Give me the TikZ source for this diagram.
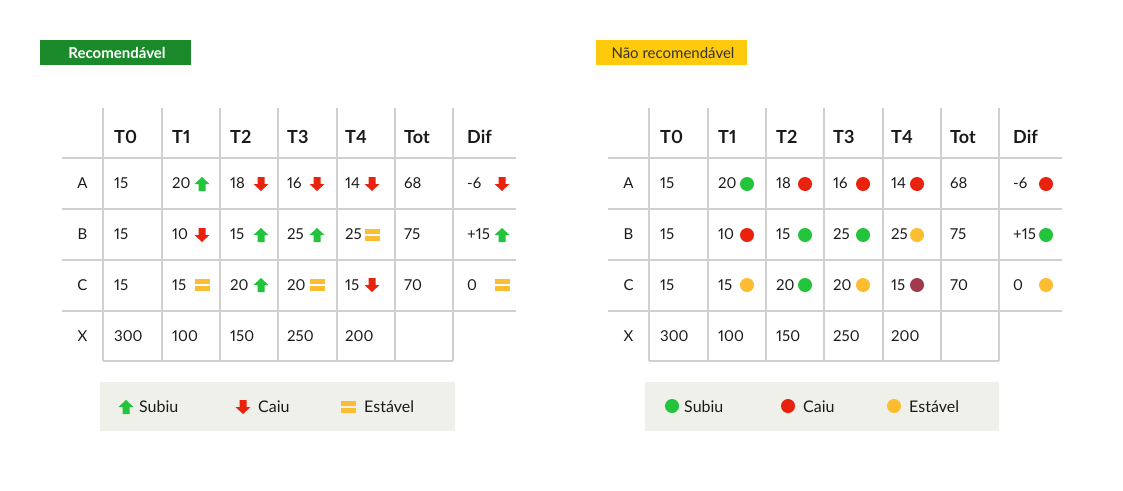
\documentclass[tikz,border=0pt]{standalone}
\usepackage{fontspec}
\setmainfont{Lato}[Numbers=Proportional]
\definecolor{cgreen}{HTML}{21C43A}
\definecolor{cred}{HTML}{E8220C}
\definecolor{corange}{HTML}{FDBD31}
\definecolor{cmaroon}{HTML}{A03A4C}
\definecolor{tgreen}{HTML}{1A8A2A}
\definecolor{tyellow}{HTML}{FFC90C}
\definecolor{legbg}{HTML}{F0F0EB}
\definecolor{gridc}{HTML}{D0D0D0}
\definecolor{txt}{HTML}{1A1A1A}
\tikzset{
  gridline/.style={draw=gridc, line width=1.3pt},
  hdr/.style={anchor=base west, inner sep=0pt, text=txt, font=\bfseries\fontsize{18}{18}\selectfont},
  val/.style={anchor=base west, inner sep=0pt, text=txt, font=\fontsize{15}{15}\selectfont},
  rowlab/.style={anchor=base, inner sep=0pt, text=txt, font=\fontsize{15}{15}\selectfont},
  legtext/.style={anchor=base west, inner sep=0pt, text=txt, font=\fontsize{16}{16}\selectfont},
  titletext/.style={anchor=base, inner sep=0pt, font=\fontsize{15}{15}\selectfont},
}
\newcommand{\IcUp}[2]{\fill[cgreen] (#1,#2) ++(0,-7) -- ++(7.5,7) -- ++(-4,0) -- ++(0,7) -- ++(-7,0) -- ++(0,-7) -- ++(-4,0) -- cycle;}
\newcommand{\IcDown}[2]{\fill[cred] (#1,#2) ++(0,7) -- ++(7.5,-7) -- ++(-4,0) -- ++(0,-7) -- ++(-7,0) -- ++(0,7) -- ++(-4,0) -- cycle;}
\newcommand{\IcEq}[2]{\fill[corange] (#1,#2) ++(-7.5,-6) rectangle ++(15,5); \fill[corange] (#1,#2) ++(-7.5,1) rectangle ++(15,5);}
\newcommand{\IcDot}[3]{\fill[#3] (#1,#2) circle (7);}
\newcommand{\TableBase}[1]{%
  \foreach \yy in {158,209,260,311} \draw[gridline] (62,\yy) -- (516,\yy);
  \foreach \xx in {103,162,220,278,337,395,453} \draw[gridline] (\xx,108) -- (\xx,361);
  \draw[gridline] (103,361) -- (453,361);
  \foreach \xx/\t [count=\i] in {114/T0,172/T1,230/T2,287/T3,345/T4,404/Tot,467/Dif}
    \node[hdr] (#1h\i) at (\xx,143) {\t};
  \foreach \r/\yy in {A/188,B/239,C/290,X/341}
    \node[rowlab] (#1\r) at (82.5,\yy) {\r};
  \foreach \xx/\v [count=\i] in {114/15,172/20,230/18,287/16,345/14,404/68,467/-6}
    \node[val] (#1A\i) at (\xx,188) {\v};
  \foreach \xx/\v [count=\i] in {114/15,172/10,230/15,287/25,345/25,404/75,467/+15}
    \node[val] (#1B\i) at (\xx,239) {\v};
  \foreach \xx/\v [count=\i] in {114/15,172/15,230/20,287/20,345/15,404/70,467/0}
    \node[val] (#1C\i) at (\xx,290) {\v};
  \foreach \xx/\v [count=\i] in {114/300,172/100,230/150,287/250,345/200}
    \node[val] (#1X\i) at (\xx,341) {\v};
}
\begin{document}
\begin{tikzpicture}[x=1pt,y=-1pt]
\useasboundingbox (0,0) rectangle (1123,490);
\fill[white] (0,0) rectangle (1123,490);
% titles
\fill[tgreen] (40,40) rectangle (191,65);
\node[titletext, text=white, font=\bfseries\fontsize{15}{15}\selectfont] (t1) at (117,58.5) {Recomendável};
\fill[tyellow] (596,40) rectangle (747,65);
\node[titletext, text=black!80] (t2) at (673,58.5) {Não recomendável};
% left table
\TableBase{L}
\IcUp{202}{184} \IcDown{261}{184} \IcDown{317}{184} \IcDown{372}{184} \IcDown{502}{184}
\IcDown{202}{235} \IcUp{261}{235} \IcUp{317}{235} \IcEq{372}{235} \IcUp{502}{235}
\IcEq{202}{285} \IcUp{261}{285} \IcEq{317}{285} \IcDown{372}{285} \IcEq{502}{285}
% right table
\begin{scope}[xshift=546pt]
\TableBase{R}
\IcDot{201}{184}{cgreen} \IcDot{259}{184}{cred} \IcDot{317}{184}{cred} \IcDot{371}{184}{cred} \IcDot{500}{184}{cred}
\IcDot{201}{235}{cred} \IcDot{259}{235}{cgreen} \IcDot{317}{235}{cgreen} \IcDot{371}{235}{corange} \IcDot{500}{235}{cgreen}
\IcDot{201}{285}{corange} \IcDot{259}{285}{cgreen} \IcDot{317}{285}{corange} \IcDot{371}{285}{cmaroon} \IcDot{500}{285}{corange}
\end{scope}
% legends
\fill[legbg] (100,382) rectangle (455,431);
\IcUp{126}{407} \node[legtext] (l1) at (139,412) {Subiu};
\IcDown{243}{407} \node[legtext] (l2) at (258,412) {Caiu};
\IcEq{348}{407} \node[legtext] (l3) at (364,412) {Estável};
\fill[legbg] (645,382) rectangle (999,431);
\IcDot{672}{406}{cgreen} \node[legtext] (r1) at (684,412) {Subiu};
\IcDot{788}{406}{cred} \node[legtext] (r2) at (803,412) {Caiu};
\IcDot{894}{406}{corange} \node[legtext] (r3) at (909,412) {Estável};
\end{tikzpicture}
\end{document}
